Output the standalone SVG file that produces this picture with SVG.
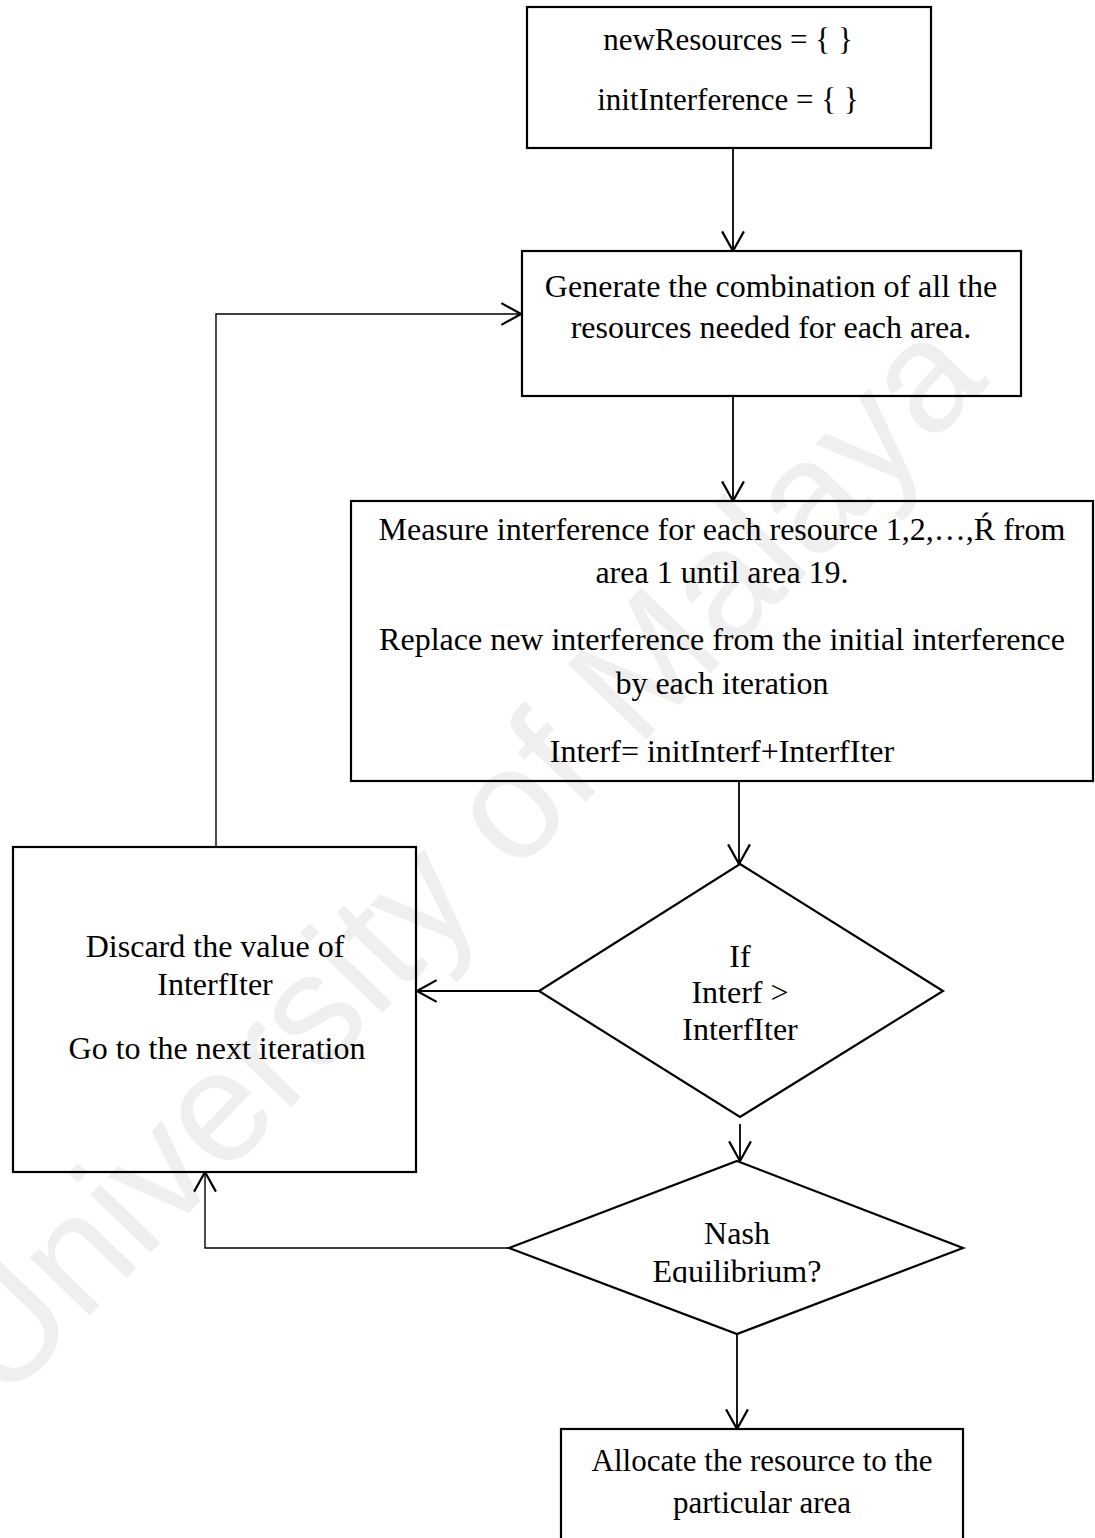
<svg xmlns="http://www.w3.org/2000/svg" width="1095" height="1538" viewBox="0 0 1095 1538">
  <style>
    .box { fill: none; stroke: #000; stroke-width: 2.2; }
    .lbl { font-family: "Liberation Serif", "Times New Roman", serif; font-size: 32px; fill: #000; text-anchor: middle; }
    .edge { fill: none; stroke: #000; stroke-width: 1.8; }
    .thin { stroke-width: 1.4; }
    .wm { font-family: "Liberation Sans", Arial, sans-serif; font-size: 158px; fill: #efefef; text-anchor: middle; }
  </style>
  <defs>
    <marker id="open-arrow" markerUnits="userSpaceOnUse" markerWidth="22" markerHeight="24" viewBox="0 0 20 22" refX="19" refY="11" orient="auto">
      <path d="M1,1 L19,11 L1,21" fill="none" stroke="#000" stroke-width="2"/>
    </marker>
    <clipPath id="nash-clip">
      <rect x="500" y="1150" width="480" height="133"/>
    </clipPath>
  </defs>

  <rect width="1095" height="1538" fill="#fff"/>

  <!-- background watermark -->
  <text class="wm" transform="translate(497,894) rotate(-46)">University of Malaya</text>

  <!-- connectors -->
  <g id="connectors">
    <path class="edge" d="M733,148 V251" marker-end="url(#open-arrow)"/>
    <path class="edge" d="M733,396 V501" marker-end="url(#open-arrow)"/>
    <path class="edge" d="M739,781 V864" marker-end="url(#open-arrow)"/>
    <path class="edge" d="M740,1124 V1161" marker-end="url(#open-arrow)"/>
    <path class="edge" d="M539,991 H417" marker-end="url(#open-arrow)"/>
    <path class="edge" d="M737,1334 V1429" marker-end="url(#open-arrow)"/>
    <path class="edge thin" d="M509,1248 H205 V1172" marker-end="url(#open-arrow)"/>
    <path class="edge thin" d="M216,847 V314 H521" marker-end="url(#open-arrow)"/>
  </g>

  <g id="init">
    <rect class="box" x="527" y="7" width="404" height="141"/>
    <text class="lbl" x="728" y="50" style="font-size:31px">newResources = { }</text>
    <text class="lbl" x="728" y="110" style="font-size:31px">initInterference = { }</text>
  </g>

  <g id="generate">
    <rect class="box" x="522" y="251" width="499" height="145"/>
    <text class="lbl" x="771" y="297">Generate the combination of all the</text>
    <text class="lbl" x="771" y="338">resources needed for each area.</text>
  </g>

  <g id="measure">
    <rect class="box" x="351" y="501" width="742" height="280"/>
    <text class="lbl" x="722" y="540">Measure interference for each resource 1,2,…,Ŕ from</text>
    <text class="lbl" x="722" y="583">area 1 until area 19.</text>
    <text class="lbl" x="722" y="650">Replace new interference from the initial interference</text>
    <text class="lbl" x="722" y="694">by each iteration</text>
    <text class="lbl" x="722" y="762">Interf= initInterf+InterfIter</text>
  </g>

  <g id="discard">
    <rect class="box" x="13" y="847" width="403" height="325"/>
    <text class="lbl" x="215" y="957">Discard the value of</text>
    <text class="lbl" x="215" y="995">InterfIter</text>
    <text class="lbl" x="217" y="1059">Go to the next iteration</text>
  </g>

  <g id="check-interf">
    <polygon class="box" points="740,864 943,991 740,1117 539,991"/>
    <text class="lbl" x="740" y="967">If</text>
    <text class="lbl" x="740" y="1003">Interf &gt;</text>
    <text class="lbl" x="740" y="1040">InterfIter</text>
  </g>

  <g id="nash">
    <polygon class="box" points="737,1161 963,1248 737,1334 509,1248"/>
    <text class="lbl" x="737" y="1244">Nash</text>
    <text class="lbl" x="737" y="1282" clip-path="url(#nash-clip)">Equilibrium?</text>
  </g>

  <g id="allocate">
    <rect class="box" x="561" y="1429" width="402" height="130"/>
    <text class="lbl" x="762" y="1471" style="font-size:31px">Allocate the resource to the</text>
    <text class="lbl" x="762" y="1513" style="font-size:31px">particular area</text>
  </g>
</svg>
